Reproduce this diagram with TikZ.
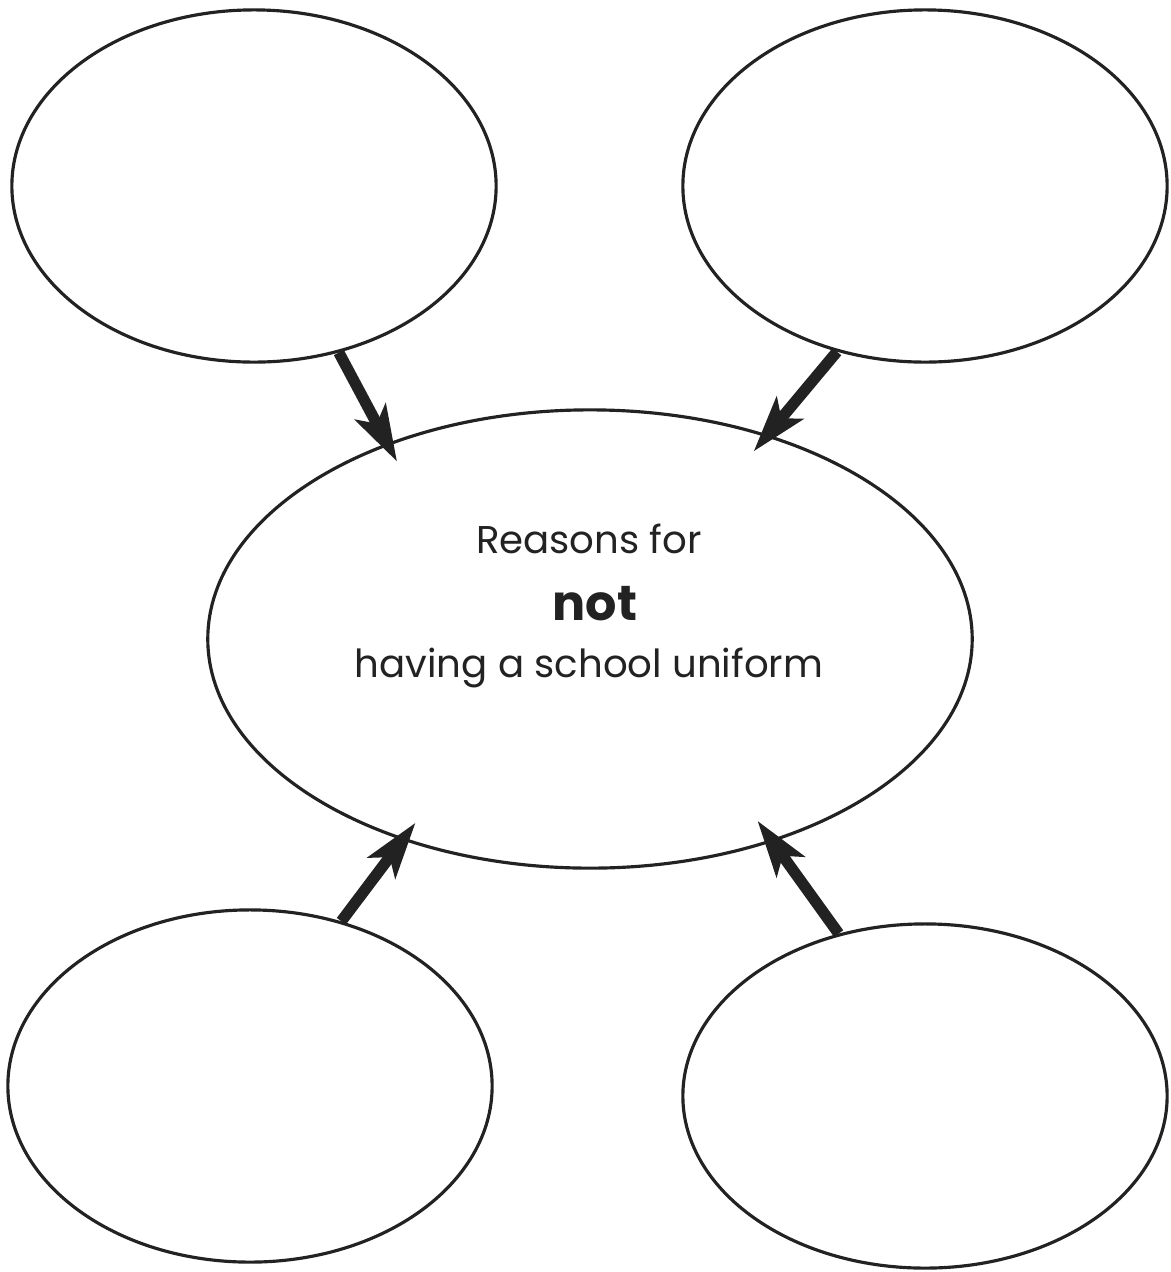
\documentclass[tikz,border=0pt]{standalone}
\usepackage{fontspec}
\setmainfont{Poppins}
\usetikzlibrary{shapes.geometric,arrows.meta}
\definecolor{ink}{HTML}{222222}
\tikzset{
  bubble/.style={ellipse, draw=ink, line width=0.9pt, inner sep=0pt, fill=white},
  small/.style={bubble, minimum width=4.84cm, minimum height=3.52cm},
  big/.style={bubble, minimum width=7.64cm, minimum height=4.58cm},
  arr/.style={draw=ink, line width=3.2pt,
    -{Stealth[length=5.6mm, width=3.4mm, inset=1.3mm]}},
  lbl/.style={text=ink, anchor=base, inner sep=0pt, font=\fontsize{11pt}{13pt}\selectfont}
}
\begin{document}
\begin{tikzpicture}[x=0.01cm, y=-0.01cm]
  \useasboundingbox (0,0) rectangle (1171,1272);
  \node[small] (tl) at (254,186) {};
  \node[small] (tr) at (925,186) {};
  \node[small] (bl) at (250,1086) {};
  \node[small, minimum height=3.44cm] (br) at (925,1096) {};
  \node[big] (c) at (590,639) {};
  \node[lbl] (l1) at (589,553) {Reasons for};
  \node[lbl, font=\fontsize{14pt}{16pt}\selectfont\bfseries] (l2) at (595,620) {not};
  \node[lbl] (l3) at (589,677) {having a school uniform};
  \draw[arr, shorten >=-2.1mm] (tl.-63) -- (c.136);
  \draw[arr, shorten >=-2.2mm] (tr.242) -- (c.49);
  \draw[arr, shorten >=-2.2mm] (bl.61.5) -- (c.227.5);
  \draw[arr, shorten >=-2.6mm] (br.118) -- (c.312.6);
\end{tikzpicture}
\end{document}
